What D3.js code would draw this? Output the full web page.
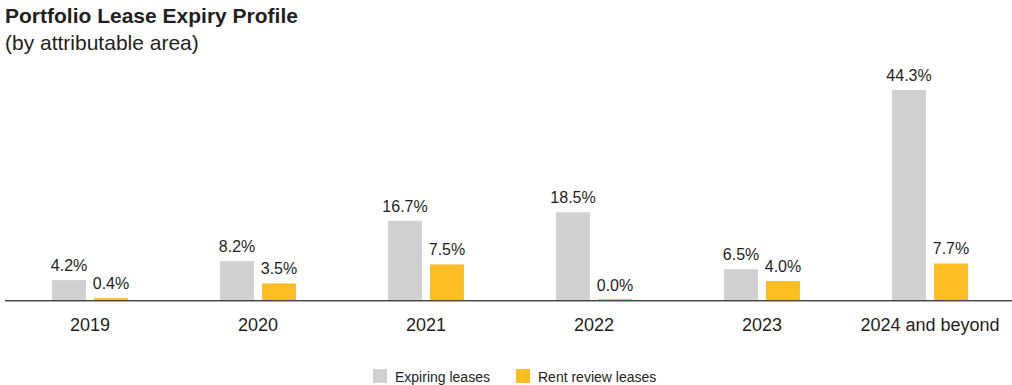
<!DOCTYPE html>
<html>
<head>
<meta charset="utf-8">
<script src="https://cdn.jsdelivr.net/npm/d3@7"></script>
<style>
  body { margin: 0; background: #fff; }
  svg { font-family: "Liberation Sans", Arial, sans-serif; }
</style>
</head>
<body>
<div id="chart"></div>
<script>
var categories = ["2019", "2020", "2021", "2022", "2023", "2024 and beyond"];
var expiring = [4.2, 8.2, 16.7, 18.5, 6.5, 44.3];
var rentReview = [0.4, 3.5, 7.5, 0.0, 4.0, 7.7];
var seriesNames = ["Expiring leases", "Rent review leases"];
var colors = ["#d0d1d0", "#fdbd25"];

var width = 1012, height = 385;
var baseY = 300;

var svg = d3.select("#chart").append("svg")
    .attr("width", width)
    .attr("height", height);

// title
svg.append("text").attr("x", 5).attr("y", 23)
    .text("Portfolio Lease Expiry Profile")
    .attr("font-size", "21px").attr("font-weight", "bold").attr("fill", "#231f20");
svg.append("text").attr("x", 5).attr("y", 50)
    .text("(by attributable area)")
    .attr("font-size", "21px").attr("fill", "#231f20");

var x = d3.scaleBand().domain(categories).range([6, 1014]);
var inner = d3.scaleBand().domain([0, 1]).range([-38, 38]).paddingInner(0.19);
var y = d3.scaleLinear().domain([0, 44.3]).range([baseY, 90]);

var rows = categories.map(function (c, i) {
    return { cat: c, vals: [expiring[i], rentReview[i]] };
});

var groups = svg.selectAll("g.grp")
    .data(rows)
    .enter()
    .append("g")
    .attr("class", "grp")
    .attr("transform", function (d) { return "translate(" + (x(d.cat) + x.bandwidth() / 2) + ",0)"; });

// bars keep at least a hairline so 0.0% still shows
groups.selectAll("rect")
    .data(function (d) { return d.vals; })
    .enter()
    .append("rect")
    .attr("x", function (d, i) { return inner(i); })
    .attr("y", function (d) { return Math.min(y(d), baseY - 1); })
    .attr("width", inner.bandwidth())
    .attr("height", function (d) { return Math.max(baseY - y(d), 1); })
    .attr("fill", function (d, i) { return colors[i]; });

groups.selectAll("text.val")
    .data(function (d) { return d.vals; })
    .enter()
    .append("text")
    .attr("class", "val")
    .attr("x", function (d, i) { return inner(i) + inner.bandwidth() / 2; })
    .attr("y", function (d) { return y(d) - 9; })
    .attr("text-anchor", "middle")
    .attr("font-size", "16px")
    .attr("fill", "#231f20")
    .text(function (d) { return d.toFixed(1) + "%"; });

// baseline axis
var axis = svg.append("g")
    .attr("transform", "translate(0," + (baseY + 0.75) + ")")
    .call(d3.axisBottom(x).tickSize(0).tickPadding(17));
axis.select(".domain").attr("stroke", "#4d4d4d").attr("stroke-width", 1.5).attr("d", "M5,0H1012");
axis.selectAll("text").attr("font-size", "18px").attr("fill", "#231f20")
    .attr("font-family", "Liberation Sans, Arial, sans-serif");

// legend
var legendX = [373, 516];
var legend = svg.selectAll("g.leg")
    .data(seriesNames)
    .enter()
    .append("g")
    .attr("class", "leg")
    .attr("transform", function (d, i) { return "translate(" + legendX[i] + ",369)"; });
legend.append("rect").attr("width", 14).attr("height", 14)
    .attr("fill", function (d, i) { return colors[i]; });
legend.append("text").attr("x", 22).attr("y", 13)
    .attr("font-size", "14px").attr("fill", "#231f20")
    .text(function (d) { return d; });
</script>
</body>
</html>
